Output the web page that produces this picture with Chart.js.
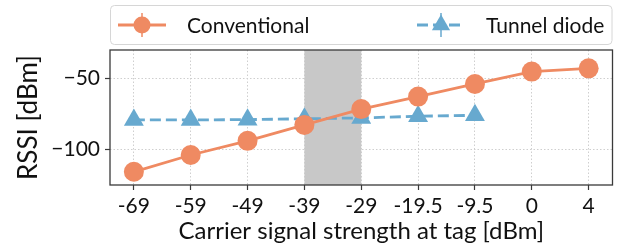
<!DOCTYPE html>
<html>
<head>
<meta charset="utf-8">
<script src="https://cdn.jsdelivr.net/npm/chart.js@4"></script>
<style>
  html, body { margin: 0; padding: 0; background: #fff; }
  #chart { display: block; }
</style>
</head>
<body>
<canvas id="chart" width="624" height="252"></canvas>
<script>
// ---- data ----
const carrierLabels = ['-69', '-59', '-49', '-39', '-29', '-19.5', '-9.5', '0', '4'];
const conventional = [-115.7, -103.9, -93.9, -82.7, -71.6, -62.8, -53.9, -45.2, -42.9];
const tunnelDiode = [-79.2, -79.2, -79.0, -78.4, -77.8, -76.6, -76.0];
const yTicks = [-50, -100];
const shadedFrom = 3; // index of -39
const shadedTo = 4;   // index of -29

const ORANGE = '#ef8a62';
const BLUE = '#67a9cf';
const FONT = 'Lato, "DejaVu Sans", sans-serif';

const toXY = arr => arr.map((v, i) => ({ x: i, y: v }));

// grey band behind the lines (-39 .. -29)
const bandPlugin = {
    id: 'band',
    beforeDatasetsDraw(chart) {
        const { ctx, chartArea, scales } = chart;
        const x0 = scales.x.getPixelForValue(shadedFrom);
        const x1 = scales.x.getPixelForValue(shadedTo);
        ctx.save();
        ctx.fillStyle = '#c8c8c8';
        ctx.fillRect(x0, chartArea.top, x1 - x0, chartArea.bottom - chartArea.top);
        ctx.restore();
    }
};

// box around the axes + matplotlib style legend
const frameLegendPlugin = {
    id: 'frameLegend',
    afterDraw(chart) {
        const { ctx, chartArea: a } = chart;
        ctx.save();
        ctx.strokeStyle = '#3a3a3a';
        ctx.lineWidth = 1.3;
        ctx.strokeRect(a.left, a.top, a.right - a.left, a.bottom - a.top);

        // legend box
        const lx = a.left + 0.5, ly = 5.5, lw = a.right - a.left - 1, lh = 39;
        ctx.beginPath();
        ctx.roundRect(lx, ly, lw, lh, 4);
        ctx.fillStyle = 'rgba(255,255,255,0.85)';
        ctx.fill();
        ctx.strokeStyle = '#d6d6d6';
        ctx.lineWidth = 1;
        ctx.stroke();

        const cy = ly + lh / 2;
        ctx.font = '21px ' + FONT;
        ctx.fillStyle = '#111';
        ctx.textBaseline = 'middle';

        chart.data.datasets.forEach((ds, i) => {
            const x0 = i === 0 ? a.left + 8 : a.left + 307;
            const x1 = x0 + 48;
            const mx = (x0 + x1) / 2;
            ctx.strokeStyle = ds.borderColor;
            ctx.lineWidth = 3;
            ctx.setLineDash(ds.borderDash || []);
            ctx.beginPath();
            ctx.moveTo(x0, cy);
            ctx.lineTo(x1, cy);
            ctx.stroke();
            ctx.setLineDash([]);
            // little error bar tick through the marker
            ctx.lineWidth = 1.5;
            ctx.beginPath();
            ctx.moveTo(mx, cy - 12);
            ctx.lineTo(mx, cy + 12);
            ctx.stroke();
            ctx.fillStyle = ds.backgroundColor;
            ctx.beginPath();
            if (ds.pointStyle === 'triangle') {
                const r = 10.5;
                ctx.moveTo(mx, cy - r);
                ctx.lineTo(mx + r * 0.866, cy + r / 2);
                ctx.lineTo(mx - r * 0.866, cy + r / 2);
                ctx.closePath();
            } else {
                ctx.arc(mx, cy, 8.5, 0, Math.PI * 2);
            }
            ctx.fill();
            ctx.fillStyle = '#111';
            ctx.textAlign = 'left';
            ctx.fillText(ds.label, x1 + 21, cy + 1);
        });
        ctx.restore();
    }
};

function initChart() {
    const tickFont = { family: FONT, size: 21 };
    new Chart(document.getElementById('chart'), {
        type: 'line',
        data: {
            datasets: [
                {
                    label: 'Conventional',
                    data: toXY(conventional),
                    borderColor: ORANGE,
                    backgroundColor: ORANGE,
                    borderWidth: 2.8,
                    pointStyle: 'circle',
                    pointRadius: 10,
                    pointBorderWidth: 0
                },
                {
                    label: 'Tunnel diode',
                    data: toXY(tunnelDiode),
                    borderColor: BLUE,
                    backgroundColor: BLUE,
                    borderWidth: 2.8,
                    borderDash: [11, 5],
                    pointStyle: 'triangle',
                    pointRadius: 11.5,
                    pointBorderWidth: 0
                }
            ]
        },
        options: {
            responsive: false,
            animation: false,
            layout: { padding: { left: 0, top: 50, right: 6, bottom: 0 } },
            plugins: { legend: { display: false }, tooltip: { enabled: false } },
            scales: {
                x: {
                    type: 'linear',
                    min: -0.42,
                    max: 8.42,
                    afterBuildTicks: s => { s.ticks = carrierLabels.map((_, i) => ({ value: i })); },
                    afterFit: s => { s.height = 67; },
                    ticks: {
                        autoSkip: false,
                        maxRotation: 0,
                        padding: 4,
                        color: '#111',
                        font: tickFont,
                        callback: v => carrierLabels[v]
                    },
                    grid: {
                        color: '#cfcfcf',
                        lineWidth: 1,
                        tickLength: 5,
                        tickColor: '#3a3a3a',
                        tickWidth: 1.2
                    },
                    border: { display: false, dash: [1.5, 2] },
                    title: {
                        display: true,
                        text: 'Carrier signal strength at tag [dBm]',
                        color: '#111',
                        font: { family: FONT, size: 24 },
                        padding: { top: 0, bottom: 6 }
                    }
                },
                y: {
                    min: -125,
                    max: -30,
                    afterBuildTicks: s => { s.ticks = yTicks.map(v => ({ value: v })); },
                    afterFit: s => { s.width = 110; },
                    ticks: {
                        padding: 5,
                        color: '#111',
                        font: tickFont,
                        callback: v => String(v).replace('-', '\u2212')
                    },
                    grid: {
                        color: '#cfcfcf',
                        lineWidth: 1,
                        tickLength: 5,
                        tickColor: '#3a3a3a',
                        tickWidth: 1.2
                    },
                    border: { display: false, dash: [1.5, 2] },
                    title: {
                        display: true,
                        text: 'RSSI [dBm]',
                        color: '#111',
                        font: { family: FONT, size: 26 },
                        padding: { top: 13, bottom: 0 }
                    }
                }
            }
        },
        plugins: [bandPlugin, frameLegendPlugin]
    });
}

window.onload = initChart;
</script>
</body>
</html>
